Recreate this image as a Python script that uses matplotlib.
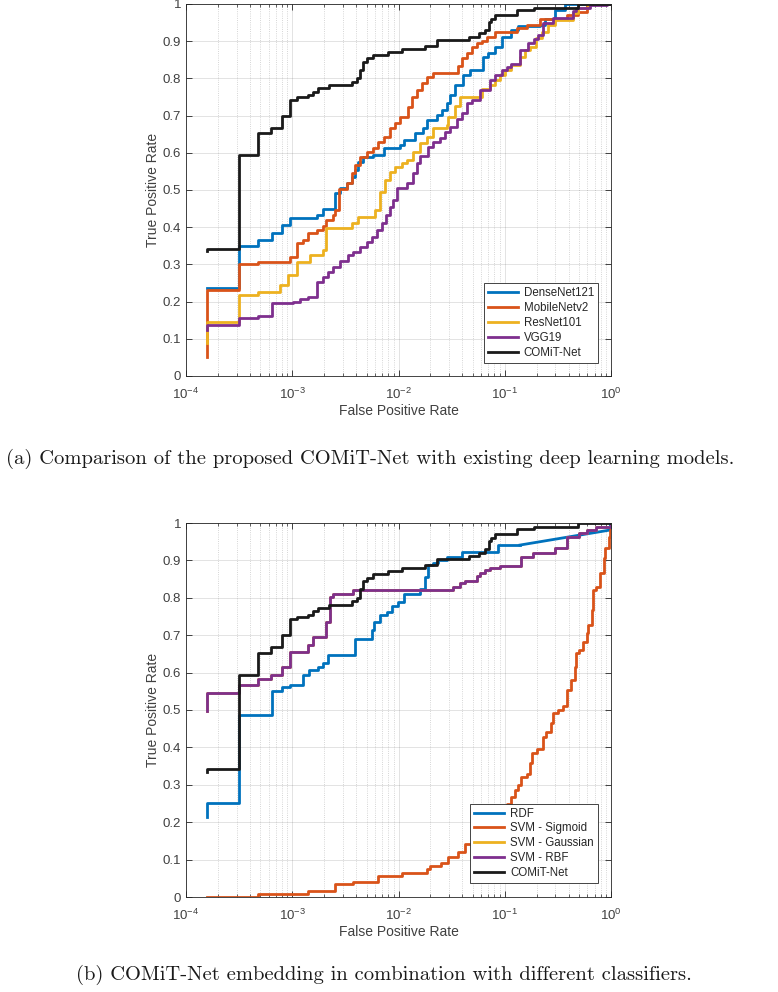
import matplotlib
matplotlib.use('Agg')
import matplotlib.pyplot as plt
from matplotlib.ticker import LogLocator, NullFormatter

plt.rcParams['font.family'] = ['Liberation Sans', 'DejaVu Sans']

# --- data (fpr, tpr corners of the step curves) ---
yticks = [0, 0.1, 0.2, 0.3, 0.4, 0.5, 0.6, 0.7, 0.8, 0.9, 1]
ytick_labels = ['0', '0.1', '0.2', '0.3', '0.4', '0.5', '0.6', '0.7', '0.8', '0.9', '1']

comit_fpr = [1.57e-4, 1.57e-4, 3.18e-4, 4.79e-4, 6.27e-4, 7.96e-4, 9.53e-4, 1.12e-3, 1.42e-3,
             1.58e-3, 1.76e-3, 2.23e-3, 3.63e-3, 4.05e-3, 4.35e-3, 4.6e-3, 5.0e-3, 5.8e-3,
             8.0e-3, 1.07e-2, 1.78e-2, 2.29e-2, 4.6e-2, 0.0575, 0.065, 0.0716, 0.075, 0.081,
             0.131, 0.19, 0.49, 1.0]
comit_tpr = [0.335, 0.342, 0.594, 0.652, 0.668, 0.700, 0.742, 0.749, 0.755,
             0.764, 0.773, 0.782, 0.791, 0.800, 0.823, 0.845, 0.854, 0.863,
             0.872, 0.879, 0.887, 0.903, 0.911, 0.921, 0.930, 0.952, 0.961, 0.970,
             0.984, 0.990, 1.0, 1.0]

dense_fpr = [1.57e-4, 3.18e-4, 4.79e-4, 6.4e-4, 7.96e-4, 9.53e-4, 1.7e-3, 1.93e-3, 2.52e-3,
             2.8e-3, 3.25e-3, 3.62e-3, 3.9e-3, 4.19e-3, 4.6e-3, 5.8e-3, 7.3e-3, 1.03e-2,
             1.13e-2, 1.43e-2, 1.71e-2, 1.84e-2, 2.29e-2, 2.55e-2, 2.84e-2, 3.05e-2, 3.41e-2,
             4.08e-2, 4.68e-2, 0.0624, 0.07, 0.081, 0.0932, 0.115, 0.133, 0.215, 0.24,
             0.295, 0.366, 1.0]
dense_tpr = [0.236, 0.349, 0.366, 0.384, 0.406, 0.424, 0.433, 0.448, 0.491,
             0.505, 0.520, 0.536, 0.554, 0.576, 0.590, 0.594, 0.612, 0.621,
             0.634, 0.652, 0.668, 0.688, 0.702, 0.715, 0.733, 0.755, 0.782,
             0.809, 0.823, 0.858, 0.867, 0.885, 0.912, 0.930, 0.940, 0.944, 0.960,
             0.984, 1.0, 1.0]

mobile_fpr = [1.57e-4, 1.57e-4, 3.18e-4, 4.79e-4, 9.53e-4, 1.1e-3, 1.25e-3, 1.42e-3, 1.7e-3,
              1.96e-3, 2.1e-3, 2.4e-3, 2.52e-3, 2.77e-3, 3.25e-3, 3.62e-3, 3.9e-3, 4.34e-3,
              5.0e-3, 5.8e-3, 6.46e-3, 7.3e-3, 8.3e-3, 9.27e-3, 1.03e-2, 1.24e-2, 1.33e-2,
              1.48e-2, 1.65e-2, 1.84e-2, 2.1e-2, 3.66e-2, 3.93e-2, 4.38e-2, 4.89e-2, 5.45e-2,
              0.0607, 0.0676, 0.081, 0.129, 0.161, 0.215, 0.383, 0.492, 0.59, 1.0]
mobile_tpr = [0.052, 0.231, 0.301, 0.307, 0.319, 0.358, 0.366, 0.384, 0.393,
              0.403, 0.420, 0.433, 0.447, 0.502, 0.520, 0.545, 0.567, 0.590,
              0.603, 0.612, 0.630, 0.643, 0.666, 0.679, 0.697, 0.724, 0.751,
              0.769, 0.787, 0.805, 0.814, 0.832, 0.855, 0.868, 0.885, 0.895,
              0.900, 0.910, 0.924, 0.935, 0.944, 0.960, 0.970, 0.978, 1.0, 1.0]

resnet_fpr = [1.57e-4, 1.57e-4, 3.18e-4, 4.79e-4, 7.67e-4, 9.18e-4, 1.1e-3, 1.47e-3, 1.96e-3,
              2.08e-3, 3.62e-3, 4.19e-3, 6.0e-3, 6.7e-3, 7.46e-3, 8.3e-3, 9.27e-3, 1.07e-2,
              1.19e-2, 1.38e-2, 1.59e-2, 1.84e-2, 2.13e-2, 2.84e-2, 2.93e-2, 3.41e-2, 3.79e-2,
              0.0607, 0.0726, 0.081, 0.0905, 0.101, 0.115, 0.139, 0.155, 0.174, 0.198,
              0.222, 0.255, 0.295, 0.437, 0.492, 0.61, 1.0]
resnet_tpr = [0.088, 0.146, 0.218, 0.227, 0.245, 0.271, 0.307, 0.325, 0.338,
              0.397, 0.412, 0.428, 0.446, 0.495, 0.527, 0.549, 0.563, 0.572,
              0.581, 0.603, 0.626, 0.643, 0.666, 0.675, 0.697, 0.727, 0.750,
              0.772, 0.781, 0.795, 0.810, 0.823, 0.836, 0.858, 0.876, 0.885, 0.908,
              0.926, 0.944, 0.957, 0.975, 0.989, 1.0, 1.0]

vgg_fpr = [1.57e-4, 1.57e-4, 3.18e-4, 4.79e-4, 6.4e-4, 1.02e-3, 1.18e-3, 1.42e-3, 1.7e-3,
           1.96e-3, 2.18e-3, 2.4e-3, 2.81e-3, 3.37e-3, 3.76e-3, 4.34e-3, 5.0e-3, 5.59e-3,
           6.23e-3, 6.95e-3, 7.63e-3, 8.3e-3, 8.94e-3, 9.6e-3, 1.19e-2, 1.38e-2, 1.48e-2,
           1.59e-2, 1.91e-2, 2.13e-2, 2.46e-2, 2.75e-2, 3.08e-2, 3.53e-2, 3.93e-2, 4.38e-2,
           4.89e-2, 0.0582, 0.0726, 0.081, 0.0932, 0.104, 0.115, 0.139, 0.166, 0.19,
           0.204, 0.229, 0.285, 0.437, 0.47, 0.63, 0.91, 1.0]
vgg_tpr = [0.124, 0.137, 0.155, 0.161, 0.195, 0.200, 0.207, 0.213, 0.254,
           0.267, 0.280, 0.294, 0.310, 0.325, 0.334, 0.348, 0.361, 0.375,
           0.393, 0.411, 0.433, 0.455, 0.473, 0.505, 0.520, 0.545, 0.572,
           0.592, 0.616, 0.630, 0.639, 0.657, 0.670, 0.692, 0.706, 0.733,
           0.742, 0.769, 0.796, 0.810, 0.823, 0.830, 0.840, 0.877, 0.895, 0.905,
           0.917, 0.948, 0.962, 0.980, 0.990, 0.997, 1.0, 1.0]

rdf_fpr = [1.57e-4, 1.57e-4, 3.18e-4, 6.4e-4, 7.96e-4, 9.53e-4, 1.27e-3, 1.45e-3, 1.76e-3,
           1.96e-3, 2.18e-3, 3.9e-3, 5.59e-3, 5.88e-3, 6.7e-3, 7.75e-3, 8.63e-3, 9.95e-3,
           1.13e-2, 1.59e-2, 1.78e-2, 1.91e-2, 2.13e-2, 2.37e-2, 2.84e-2, 3.93e-2, 0.0868,
           0.139]
rdf_tpr = [0.213, 0.252, 0.487, 0.551, 0.562, 0.567, 0.594, 0.607, 0.616,
           0.627, 0.647, 0.689, 0.714, 0.736, 0.754, 0.763, 0.778, 0.790,
           0.810, 0.823, 0.856, 0.888, 0.894, 0.900, 0.908, 0.923, 0.941,
           0.941]
# tied scores at the end give a straight segment
rdf_tail_fpr = [0.139, 0.97, 1.0]
rdf_tail_tpr = [0.941, 0.981, 1.0]

sigmoid_fpr = [1.57e-4, 4.79e-4, 1.42e-3, 2.52e-3, 3.76e-3, 6.46e-3, 1.09e-2, 1.87e-2, 2.0e-2,
               2.5e-2, 2.94e-2, 3.66e-2, 4.22e-2, 4.89e-2, 0.0505, 0.0565, 0.0629, 0.075,
               0.0932, 0.104, 0.115, 0.124, 0.133, 0.143, 0.161, 0.174, 0.18, 0.2,
               0.229, 0.245, 0.275, 0.285, 0.317, 0.355, 0.383, 0.422, 0.454, 0.47,
               0.505, 0.545, 0.59, 0.61, 0.66, 0.683, 0.73, 0.78, 0.85, 0.88, 0.95, 0.98, 1.0]
sigmoid_tpr = [0.0, 0.008, 0.017, 0.034, 0.041, 0.057, 0.065, 0.074, 0.083,
               0.090, 0.106, 0.121, 0.143, 0.152, 0.170, 0.197, 0.205, 0.208,
               0.227, 0.250, 0.268, 0.286, 0.300, 0.322, 0.330, 0.357, 0.384, 0.397,
               0.428, 0.440, 0.465, 0.493, 0.500, 0.510, 0.553, 0.580, 0.616, 0.652,
               0.660, 0.683, 0.705, 0.727, 0.767, 0.821, 0.830, 0.866, 0.906, 0.932, 0.963, 0.98, 1.0]

rbf_fpr = [1.57e-4, 1.57e-4, 3.18e-4, 4.79e-4, 6.27e-4, 7.96e-4, 9.53e-4, 1.42e-3, 1.58e-3,
           2.1e-3, 2.27e-3, 2.43e-3, 3.76e-3, 3.28e-2, 3.79e-2, 4.22e-2, 0.0545, 0.0582,
           0.065, 0.0726, 0.0905, 0.143, 0.186, 0.295, 0.383, 0.505, 0.59, 0.73, 1.0]
rbf_tpr = [0.498, 0.545, 0.567, 0.583, 0.594, 0.616, 0.656, 0.674, 0.696,
           0.736, 0.803, 0.810, 0.821, 0.830, 0.839, 0.845, 0.857, 0.866,
           0.875, 0.879, 0.884, 0.908, 0.920, 0.933, 0.963, 0.972, 0.981, 0.988, 1.0]
# Gaussian kernel curve lies exactly under the RBF one
gauss_fpr = list(rbf_fpr)
gauss_tpr = list(rbf_tpr)

c_blue, c_orange, c_yellow, c_purple, c_black = '#0072BD', '#D95319', '#EDB120', '#7E2F8E', '#1a1a1a'
axcol = '#262626'

fig = plt.figure(figsize=(7.78, 9.92), dpi=100)
ax1 = fig.add_axes([186/778, 1 - 376/992, 425/778, 372/992])
ax2 = fig.add_axes([186/778, 1 - 897/992, 425/778, 374/992])

lw = 2.0
ax1.plot(dense_fpr, dense_tpr, color=c_blue, lw=lw, drawstyle='steps-post', label='DenseNet121')
ax1.plot(mobile_fpr, mobile_tpr, color=c_orange, lw=lw, drawstyle='steps-post', label='MobileNetv2')
ax1.plot(resnet_fpr, resnet_tpr, color=c_yellow, lw=lw, drawstyle='steps-post', label='ResNet101')
ax1.plot(vgg_fpr, vgg_tpr, color=c_purple, lw=lw, drawstyle='steps-post', label='VGG19')
ax1.plot(comit_fpr, comit_tpr, color=c_black, lw=lw, drawstyle='steps-post', label='COMiT-Net')

ax2.plot(rdf_fpr, rdf_tpr, color=c_blue, lw=lw, drawstyle='steps-post', label='RDF')
ax2.plot(rdf_tail_fpr, rdf_tail_tpr, color=c_blue, lw=lw)
ax2.plot(sigmoid_fpr, sigmoid_tpr, color=c_orange, lw=lw, drawstyle='steps-post', label='SVM - Sigmoid')
ax2.plot(gauss_fpr, gauss_tpr, color=c_yellow, lw=lw, drawstyle='steps-post', label='SVM - Gaussian')
ax2.plot(rbf_fpr, rbf_tpr, color=c_purple, lw=lw, drawstyle='steps-post', label='SVM - RBF')
ax2.plot(comit_fpr, comit_tpr, color=c_black, lw=lw, drawstyle='steps-post', label='COMiT-Net')

legend_anchor = {ax1: (0.969, 0.035), ax2: (0.969, 0.037)}
for ax in (ax1, ax2):
    ax.set_xscale('log')
    ax.set_xlim(1e-4, 1)
    ax.set_ylim(0, 1)
    ax.set_yticks(yticks)
    ax.set_yticklabels(ytick_labels)
    ax.xaxis.set_minor_locator(LogLocator(base=10, subs=range(2, 10), numticks=20))
    ax.xaxis.set_minor_formatter(NullFormatter())
    ax.grid(True, which='major', color=axcol, alpha=0.15, lw=0.6, ls='-')
    ax.grid(True, which='minor', axis='x', color=axcol, alpha=0.25, lw=0.6, ls=':')
    ax.set_axisbelow(True)
    ax.tick_params(which='both', direction='in', top=True, right=True, colors=axcol,
                   labelsize=9.5, labelcolor='#404040')
    ax.tick_params(which='major', length=4, width=0.6)
    ax.tick_params(which='minor', length=2.2, width=0.5)
    ax.tick_params(axis='x', which='major', pad=8)
    for sp in ax.spines.values():
        sp.set_color(axcol)
        sp.set_linewidth(0.6)
    ax.set_xlabel('False Positive Rate', fontsize=10, color='#404040', labelpad=1)
    ax.set_ylabel('True Positive Rate', fontsize=10, color='#404040', labelpad=2)
    leg = ax.legend(loc='lower right', bbox_to_anchor=legend_anchor[ax], borderaxespad=0,
                    fontsize=8.3, fancybox=False, framealpha=1, edgecolor=axcol,
                    handlelength=2.6, handletextpad=0.5, labelspacing=0.25,
                    borderpad=0.35)
    leg.get_frame().set_linewidth(0.6)
    for t in leg.get_texts():
        t.set_color('#262626')

fig.text(370/778, 1 - 459/992,
         '(a) Comparison of the proposed COMiT-Net with existing deep learning models.',
         family='cmr10', fontsize=14.8, ha='center', va='center', color='#1a1a1a')
fig.text(384/778, 1 - 975/992,
         '(b) COMiT-Net embedding in combination with different classifiers.',
         family='cmr10', fontsize=14.8, ha='center', va='center', color='#1a1a1a')

fig.savefig('out.png', dpi=100)
